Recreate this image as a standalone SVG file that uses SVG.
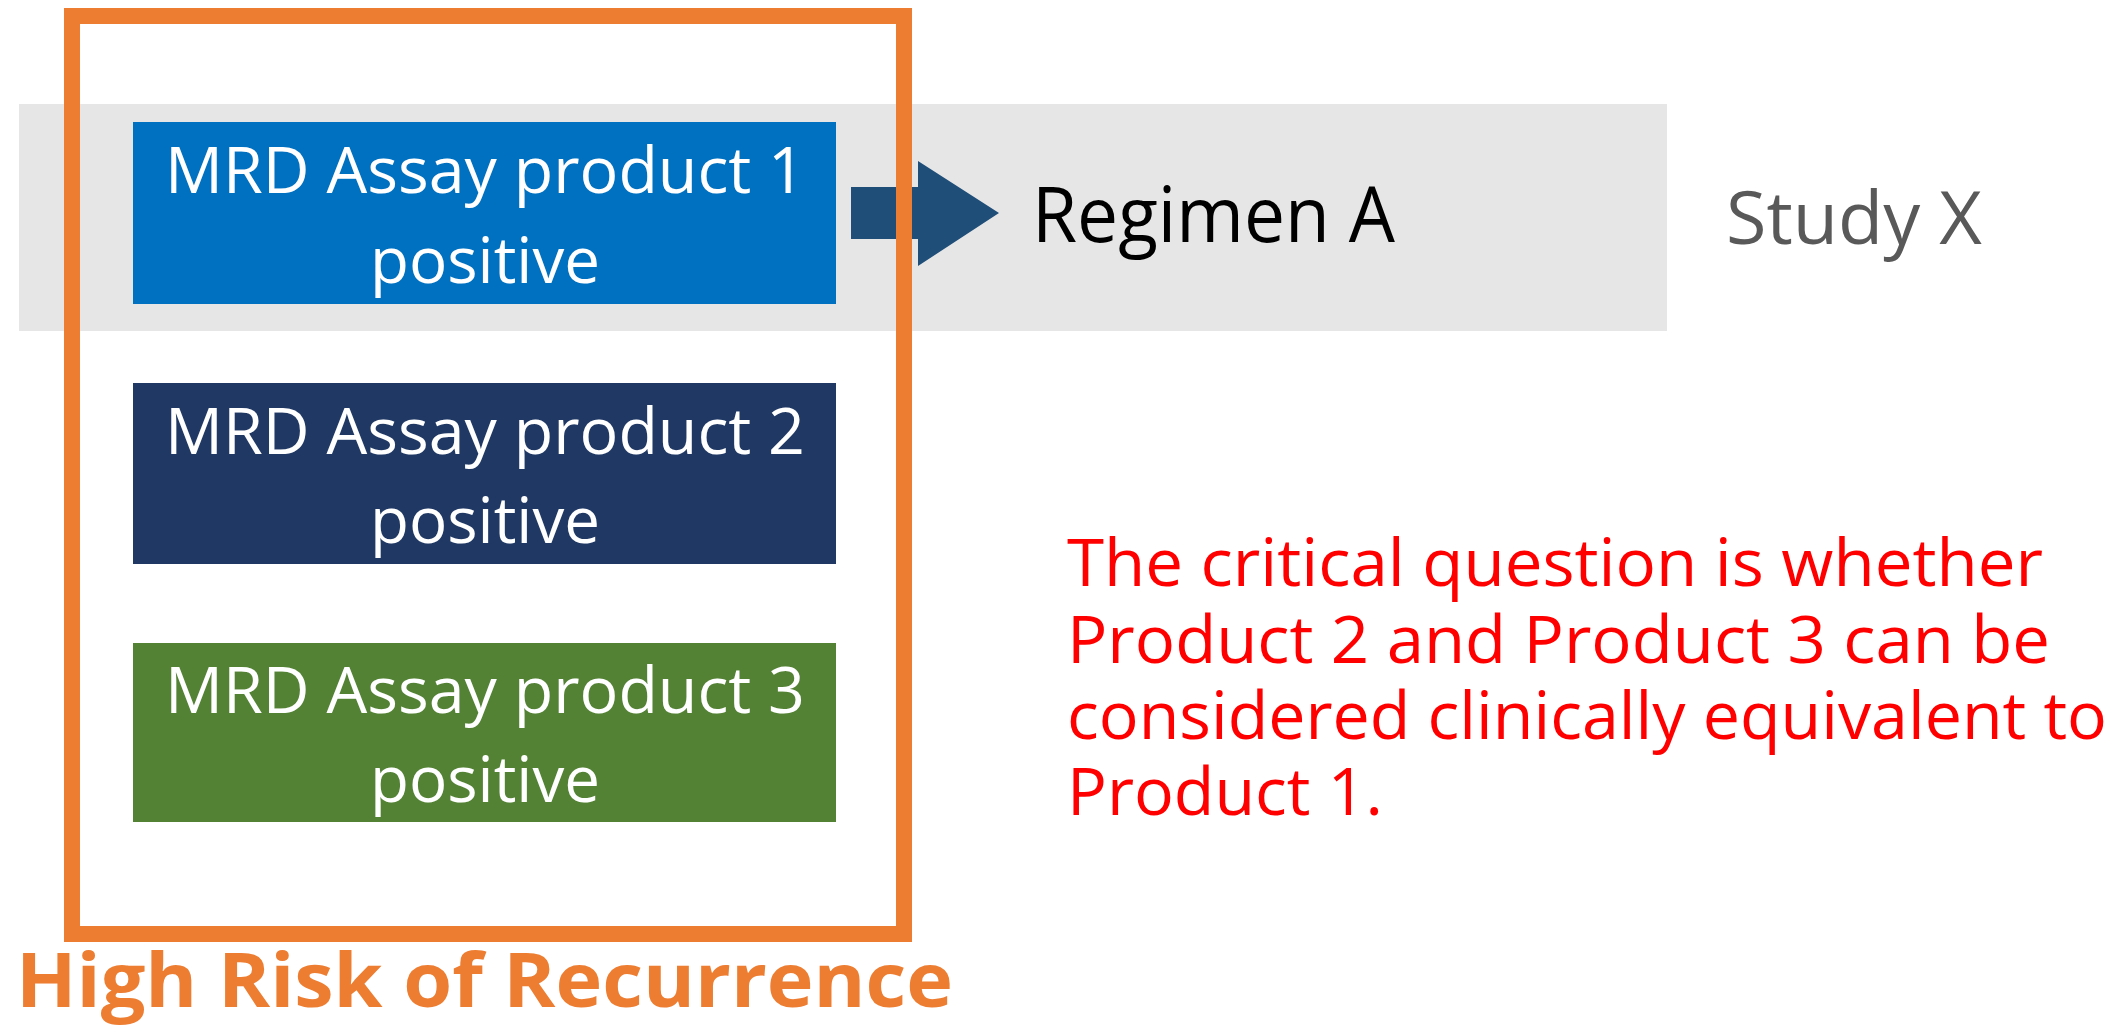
<svg xmlns="http://www.w3.org/2000/svg" width="2116" height="1028" viewBox="0 0 2116 1028">
<style>
.box-text{font-family:"Open Sans","Liberation Sans",sans-serif;font-size:64px;fill:#FFFFFF;text-anchor:middle}
.label{font-family:"Open Sans","Liberation Sans",sans-serif}
.note{font-family:"Open Sans","Liberation Sans",sans-serif;font-size:66px;fill:#FF0000}
</style>
<rect width="2116" height="1028" fill="#FFFFFF"/>
<g id="study-band">
<rect x="19" y="104" width="1648" height="227" fill="#E6E6E6"/>
<text class="label" x="1726" y="244" font-size="73" fill="#595959" textLength="256" lengthAdjust="spacingAndGlyphs">Study X</text>
</g>
<g id="product1">
<rect x="133" y="122" width="703" height="182" fill="#0070C0"/>
<text class="box-text" x="485" y="193" textLength="640" lengthAdjust="spacingAndGlyphs">MRD Assay product 1</text>
<text class="box-text" x="485" y="283" textLength="230" lengthAdjust="spacingAndGlyphs">positive</text>
</g>
<g id="product2">
<rect x="133" y="383" width="703" height="181" fill="#203864"/>
<text class="box-text" x="485" y="454" textLength="640" lengthAdjust="spacingAndGlyphs">MRD Assay product 2</text>
<text class="box-text" x="485" y="543" textLength="230" lengthAdjust="spacingAndGlyphs">positive</text>
</g>
<g id="product3">
<rect x="133" y="643" width="703" height="179" fill="#548235"/>
<text class="box-text" x="485" y="713" textLength="640" lengthAdjust="spacingAndGlyphs">MRD Assay product 3</text>
<text class="box-text" x="485" y="802" textLength="230" lengthAdjust="spacingAndGlyphs">positive</text>
</g>
<g id="connectors">
<polygon points="851,187 918,187 918,161 999,213 918,266 918,239 851,239" fill="#1F4E79"/>
</g>
<g id="regimen-a">
<text class="label" x="1032" y="242" font-size="77" fill="#000000" textLength="363" lengthAdjust="spacingAndGlyphs">Regimen A</text>
</g>
<g id="high-risk">
<rect x="72" y="16" width="832" height="918" fill="none" stroke="#ED7D31" stroke-width="16"/>
<text class="label" x="16" y="1007" font-size="76" font-weight="bold" fill="#ED7D31" textLength="937" lengthAdjust="spacingAndGlyphs">High Risk of Recurrence</text>
</g>
<g id="question">
<text class="note" x="1067" y="586" textLength="976" lengthAdjust="spacingAndGlyphs">The critical question is whether</text>
<text class="note" x="1067" y="663" textLength="983" lengthAdjust="spacingAndGlyphs">Product 2 and Product 3 can be</text>
<text class="note" x="1067" y="739" textLength="1040" lengthAdjust="spacingAndGlyphs">considered clinically equivalent to</text>
<text class="note" x="1067" y="815" textLength="316" lengthAdjust="spacingAndGlyphs">Product 1.</text>
</g>
</svg>
